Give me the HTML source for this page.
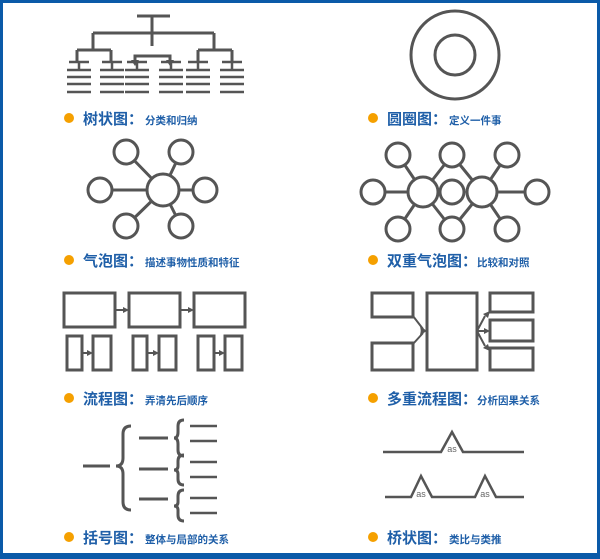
<!DOCTYPE html>
<html><head><meta charset="utf-8"><style>
html,body{margin:0;padding:0;background:#fff;}
svg{display:block;}
.b{font-family:"Liberation Sans","Noto Sans CJK SC",sans-serif;fill:#1f5fa8;font-weight:bold;}
</style></head><body>
<svg width="600" height="559" viewBox="0 0 600 559" xmlns="http://www.w3.org/2000/svg">
<rect x="1.5" y="1.5" width="597" height="553" fill="#fff" stroke="#0b5aa8" stroke-width="3"/>
<rect x="0" y="553" width="600" height="6" fill="#0b5aa8"/>
<g stroke="#555" stroke-width="3" fill="none">
<!-- tree -->
<path d="M137 16H170M152 16V46M93 33H214M93 33V50M214 33V50M77 50H111M77 50V62M111 50V62M198 50H232M198 50V62M232 50V62M152 33V46"/>
<path d="M135 62V56H170V62"/>
<g stroke-width="2.5">
<path d="M69 62H89M79 62V70M67 70H91M67 77H91M67 84H91M67 92H91"/>
<path d="M102 62H122M112 62V70M100 70H124M100 77H124M100 84H124M100 92H124"/>
<path d="M127 62H147M137 62V70M125 70H149M125 77H149M125 84H149M125 92H149"/>
<path d="M161 62H181M171 62V70M159 70H183M159 77H183M159 84H183M159 92H183"/>
<path d="M188 62H208M198 62V70M186 70H210M186 77H210M186 84H210M186 92H210"/>
<path d="M222 62H242M232 62V70M220 70H244M220 77H244M220 84H244M220 92H244"/>
</g>
<!-- circles -->
<circle cx="455" cy="55" r="44"/><circle cx="455" cy="55" r="20"/>
<!-- bubble -->
<path d="M163 190L126 152M163 190L181 152M163 190L100 190M163 190L205 190M163 190L126 226M163 190L181 226"/>
<g fill="#fff"><circle cx="163" cy="190" r="16"/>
<circle cx="126" cy="152" r="12"/><circle cx="181" cy="152" r="12"/><circle cx="100" cy="190" r="12"/><circle cx="205" cy="190" r="12"/><circle cx="126" cy="226" r="12"/><circle cx="181" cy="226" r="12"/></g>
<!-- double bubble -->
<path d="M423 192L398 155M423 192L373 192M423 192L398 229M423 192L452 155M423 192L452 229M482 192L452 155M482 192L452 229M482 192L507 155M482 192L537 192M482 192L507 229"/>
<g fill="#fff"><circle cx="423" cy="192" r="15"/><circle cx="482" cy="192" r="15"/><circle cx="452" cy="192" r="12"/>
<circle cx="398" cy="155" r="12"/><circle cx="452" cy="155" r="12"/><circle cx="507" cy="155" r="12"/><circle cx="373" cy="192" r="12"/><circle cx="537" cy="192" r="12"/><circle cx="398" cy="229" r="12"/><circle cx="452" cy="229" r="12"/><circle cx="507" cy="229" r="12"/></g>
<!-- flow -->
<rect x="64" y="293" width="51" height="34"/><rect x="129" y="293" width="51" height="34"/><rect x="194" y="293" width="51" height="34"/>
<path d="M115 310H124M180 310H189M82 353H88M147 353H154M214 353H220" stroke-width="2"/>
<rect x="67" y="336" width="15" height="34"/><rect x="93" y="336" width="18" height="34"/>
<rect x="133" y="336" width="14" height="34"/><rect x="159" y="336" width="17" height="34"/>
<rect x="198" y="336" width="16" height="34"/><rect x="225" y="336" width="17" height="34"/>
<!-- multi-flow -->
<rect x="372" y="293" width="41" height="24"/><rect x="372" y="343" width="41" height="27"/>
<rect x="427" y="293" width="50" height="77"/>
<rect x="490" y="293" width="43" height="19"/><rect x="490" y="320" width="43" height="21"/><rect x="490" y="348" width="43" height="22"/>
<path d="M413 316L423 329M413 344L423 333M477 331L485 316M477 331H485M477 331L485 346" stroke-width="2"/>
<!-- brace -->
<path d="M83 466H110M139 438H168M139 469H168M139 499H168"/>
<path d="M131 426Q123 426 123 434V458Q123 466 116 466Q123 466 123 474V502Q123 510 131 510"/>
<path d="M184 420Q178 420 178 426V432Q178 438 174 438Q178 438 178 444V450Q178 456 184 456"/>
<path d="M184 455Q178 455 178 461V466Q178 470 174 470Q178 470 178 474V479Q178 485 184 485"/>
<path d="M184 490Q178 490 178 496V502Q178 506 174 506Q178 506 178 510V515Q178 521 184 521"/>
<path d="M190 426H217M190 441H217M190 462H217M190 477H217M190 498H217M190 513H217" stroke-width="2.5"/>
<!-- bridge -->
<path d="M383 452H441L452 432L463 452H524" stroke-width="2.5"/>
<path d="M385 497H411L421 476L432 497H475L485 476L496 497H524" stroke-width="2.5"/>
</g>
<g fill="#555">
<path d="M131 60L135 66L139 60z"/><path d="M166 60L170 66L174 60z"/>
<path d="M123 307L129 310L123 313z"/><path d="M188 307L194 310L188 313z"/>
<path d="M87 350L93 353L87 356z"/><path d="M153 350L159 353L153 356z"/><path d="M219 350L225 353L219 356z"/>
<path d="M420 326L427 331L421 332z"/><path d="M420 335L427 331L421 330z"/>
<path d="M483 314L490 311L488 318z"/><path d="M484 328L490 331L484 334z"/><path d="M483 348L490 351L488 344z"/>
</g>
<g font-family="Liberation Sans,sans-serif" font-size="9" fill="#666" text-anchor="middle">
<text x="452" y="452">as</text><text x="421" y="497">as</text><text x="485" y="497">as</text></g>
<g fill="#f5a000"><circle cx="69" cy="118" r="5"/><circle cx="373" cy="118" r="5"/><circle cx="69" cy="260" r="5"/><circle cx="373" cy="260" r="5"/><circle cx="69" cy="398" r="5"/><circle cx="373" cy="398" r="5"/><circle cx="69" cy="537" r="5"/><circle cx="373" cy="537" r="5"/></g>
<g class="b">
<text x="83" y="124" font-size="15">树状图：<tspan font-size="10.5" dx="2">分类和归纳</tspan></text>
<text x="387" y="124" font-size="15">圆圈图：<tspan font-size="10.5" dx="2">定义一件事</tspan></text>
<text x="83" y="266" font-size="15">气泡图：<tspan font-size="10.5" dx="2">描述事物性质和特征</tspan></text>
<text x="387" y="266" font-size="15">双重气泡图：<tspan font-size="10.5">比较和对照</tspan></text>
<text x="83" y="404" font-size="15">流程图：<tspan font-size="10.5" dx="2">弄清先后顺序</tspan></text>
<text x="387" y="404" font-size="15">多重流程图：<tspan font-size="10.5">分析因果关系</tspan></text>
<text x="83" y="543" font-size="15">括号图：<tspan font-size="10.5" dx="2">整体与局部的关系</tspan></text>
<text x="387" y="543" font-size="15">桥状图：<tspan font-size="10.5" dx="2">类比与类推</tspan></text>
</g>
</svg>
</body></html>
